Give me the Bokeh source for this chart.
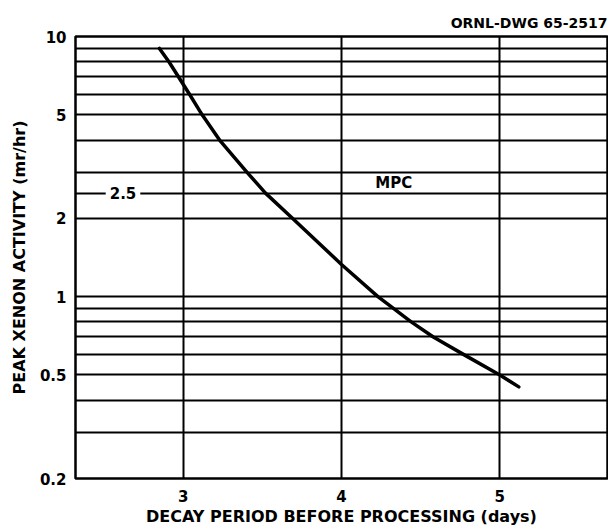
from bokeh.plotting import figure
from bokeh.models import FixedTicker, Label, Range1d, Title
from bokeh.embed import file_html
from bokeh.resources import INLINE

# data
decay_days = [2.85, 2.91, 2.97, 3.04, 3.12, 3.23, 3.405, 3.52, 3.69, 4.0, 4.23,
              4.33, 4.44, 4.58, 4.77, 5.0, 5.12]
peak_activity = [9.0, 8.0, 7.0, 6.0, 5.0, 4.0, 3.0, 2.5, 2.0, 1.33, 1.0,
                 0.9, 0.8, 0.7, 0.6, 0.5, 0.45]
x_ticks = [3, 4, 5]
y_ticks = [0.2, 0.5, 1, 2, 5, 10]
y_grid = [0.3, 0.4, 0.5, 0.6, 0.7, 0.8, 0.9, 1, 2, 2.5, 3, 4, 5, 6, 7, 8, 9]
mpc_value = 2.5

FONT = "DejaVu Sans"

p = figure(width=608, height=528, y_axis_type="log",
           x_range=Range1d(2.32, 5.68), y_range=Range1d(0.2, 10),
           output_backend="svg", toolbar_location=None,
           min_border_left=75, min_border_right=1, min_border_top=36, min_border_bottom=46)

p.add_layout(Title(text="ORNL-DWG 65-2517", align="right", text_font=FONT,
                   text_font_style="bold", text_font_size="14px", text_color="black",
                   standoff=12), "above")

p.outline_line_color = "black"
p.outline_line_width = 2.5
p.background_fill_color = "white"

p.xgrid.ticker = FixedTicker(ticks=x_ticks)
p.ygrid.ticker = FixedTicker(ticks=y_grid)
for g in (p.xgrid, p.ygrid):
    g.grid_line_color = "black"
    g.grid_line_width = 2
    g.grid_line_alpha = 1.0

p.xaxis.ticker = FixedTicker(ticks=x_ticks)
p.yaxis.ticker = FixedTicker(ticks=y_ticks)
p.yaxis.major_label_overrides = {0.2: "0.2", 0.5: "0.5", 1: "1", 2: "2", 5: "5", 10: "10"}
for ax in (p.xaxis, p.yaxis):
    ax.axis_line_color = None
    ax.major_tick_line_color = None
    ax.minor_tick_line_color = None
    ax.major_label_text_font = FONT
    ax.major_label_text_font_style = "bold"
    ax.major_label_text_font_size = "15px"
    ax.major_label_text_color = "black"
    ax.axis_label_text_font = FONT
    ax.axis_label_text_font_style = "bold"
    ax.axis_label_text_font_size = "16px"
    ax.axis_label_text_color = "black"

p.xaxis.major_label_standoff = 5
p.yaxis.major_label_standoff = 3
p.xaxis.axis_label = "DECAY PERIOD BEFORE PROCESSING (days)"
p.yaxis.axis_label = "PEAK XENON ACTIVITY (mr/hr)"
p.xaxis.axis_label_standoff = 2
p.yaxis.axis_label_standoff = 8

p.line(decay_days, peak_activity, line_color="black", line_width=3.5,
       line_join="round", line_cap="round")

p.add_layout(Label(x=2.62, y=mpc_value, text="2.5", text_align="center",
                   text_baseline="middle", text_font=FONT, text_font_style="bold",
                   text_font_size="15px", text_color="black",
                   background_fill_color="white", border_line_color=None, padding=4))
p.add_layout(Label(x=4.33, y=2.74, text="MPC", text_align="center",
                   text_baseline="middle", text_font=FONT, text_font_style="bold",
                   text_font_size="15px", text_color="black"))

open("out.html", "w").write(file_html(p, INLINE))
